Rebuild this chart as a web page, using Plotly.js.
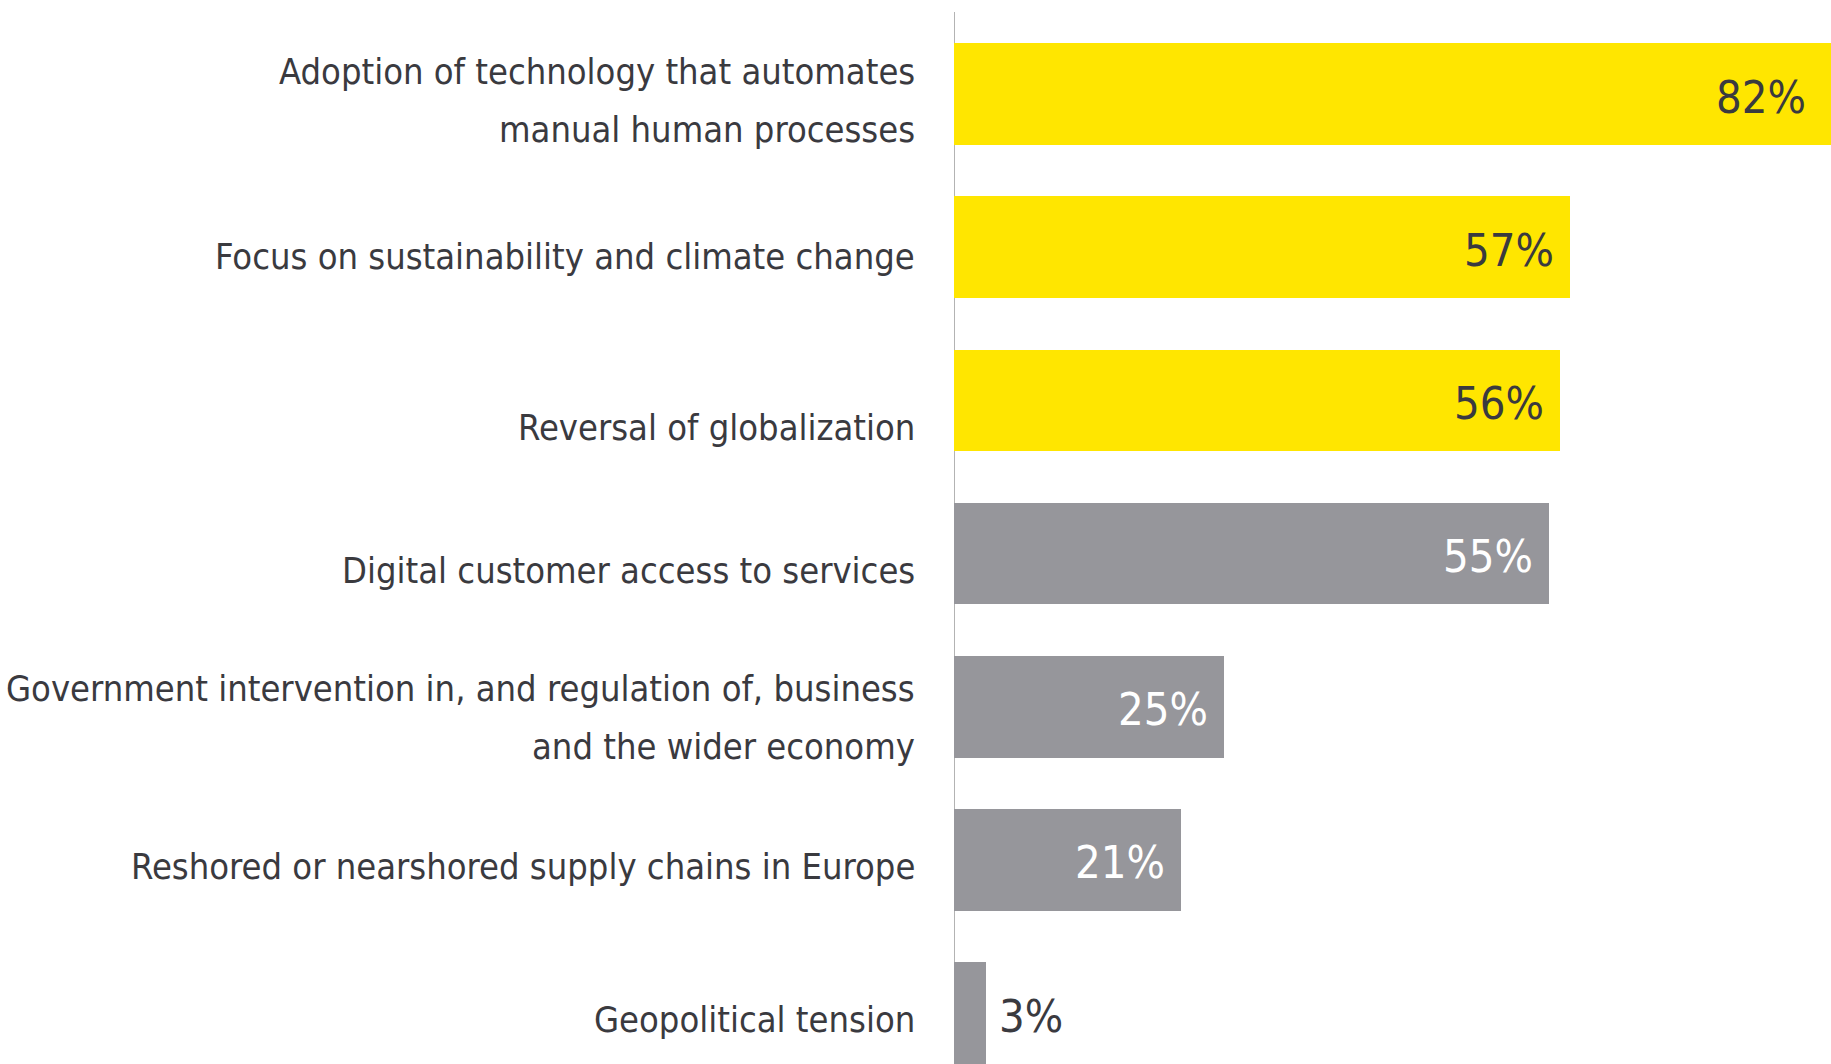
<!DOCTYPE html>
<html>
<head>
<meta charset="utf-8">
<script src="https://cdn.plot.ly/plotly-3.0.1.min.js"></script>
<style>
  html, body { margin: 0; padding: 0; background: #ffffff; }
  #chart { width: 1831px; height: 1064px; }
</style>
</head>
<body>
<div id="chart"></div>
<script>
// ---- data ----
const categoryLines = [
  ["Adoption of technology that automates", "manual human processes"],
  ["Focus on sustainability and climate change"],
  ["Reversal of globalization"],
  ["Digital customer access to services"],
  ["Government intervention in, and regulation of, business", "and the wider economy"],
  ["Reshored or nearshored supply chains in Europe"],
  ["Geopolitical tension"]
];
const values = [82, 57, 56, 55, 25, 21, 3];
const valueLabels = ["82%", "57%", "56%", "55%", "25%", "21%", "3%"];
const highlighted = [true, true, true, false, false, false, false];

// ---- styles ----
const YELLOW = "#FFE600";
const GREY = "#96969B";
const DARK = "#3a3a3f";
const FONT = "'Liberation Sans Narrow', 'DejaVu Sans Condensed', 'Arial Narrow', 'Roboto Condensed', sans-serif";
const labelOffsets = [6, 9, 27, 17, 11, 7, 6];   // px, label nudges below bar centre
const LINE_GAP = 58;
const xMax = 81.1;

const idx = categoryLines.map((_, i) => i);
const barColors = highlighted.map(h => h ? YELLOW : GREY);

const trace = {
  type: "bar",
  orientation: "h",
  x: values,
  y: idx,
  width: 0.663,
  marker: { color: barColors, line: { width: 0 } },
  hoverinfo: "none",
  textposition: "none"
};

const annotations = [];
categoryLines.forEach((lines, i) => {
  const n = lines.length;
  lines.forEach((line, j) => {
    annotations.push({
      xref: "paper", yref: "y",
      x: 0, y: i,
      xanchor: "right", yanchor: "middle",
      xshift: -37,
      yshift: -labelOffsets[i] - (j - (n - 1) / 2) * LINE_GAP,
      text: line,
      showarrow: false,
      font: { family: FONT, size: 36, color: DARK }
    });
  });
});
values.forEach((v, i) => {
  const inside = v > 10;
  const clipped = v > xMax;
  annotations.push({
    xref: "x", yref: "y",
    x: Math.min(v, xMax), y: i,
    xanchor: inside ? "right" : "left", yanchor: "middle",
    xshift: inside ? (clipped ? -23 : -14) : 11,
    yshift: -3,
    text: valueLabels[i],
    showarrow: false,
    font: { family: FONT, size: 45, color: (inside && !highlighted[i]) ? "#ffffff" : DARK }
  });
});

const layout = {
  width: 1831, height: 1064,
  margin: { l: 954, r: 0, t: 0, b: 0, pad: 0 },
  paper_bgcolor: "#ffffff", plot_bgcolor: "#ffffff",
  showlegend: false,
  bargap: 0,
  xaxis: { range: [0, xMax], showgrid: false, zeroline: false, showticklabels: false, ticks: "", showline: false, fixedrange: true },
  yaxis: { range: [6.332, -0.614], showgrid: false, zeroline: false, showticklabels: false, ticks: "", showline: false, fixedrange: true },
  shapes: [{
    type: "line", xref: "x", yref: "paper",
    x0: 0, x1: 0, y0: 0, y1: 1 - 12 / 1064,
    line: { color: "#9a9a9a", width: 1.5 },
    layer: "below"
  }],
  annotations: annotations
};

Plotly.newPlot("chart", [trace], layout, { staticPlot: true, displayModeBar: false });
</script>
</body>
</html>
